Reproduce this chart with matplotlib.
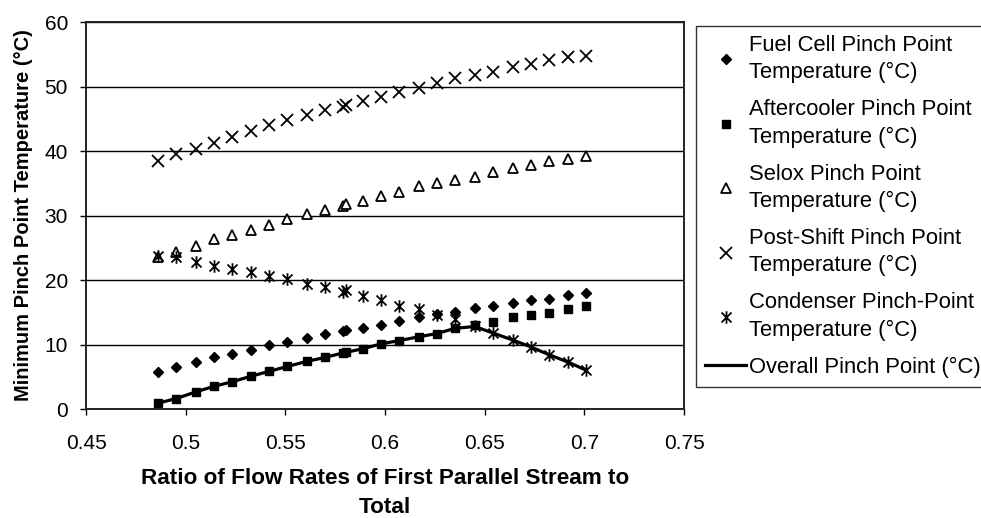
import matplotlib
matplotlib.use("Agg")
import matplotlib.pyplot as plt
from matplotlib.path import Path

plt.rcParams['font.family'] = ['Liberation Sans', 'DejaVu Sans']

# ratio of flow rates (x)
ratio = [0.486, 0.495, 0.505, 0.514, 0.523, 0.533, 0.542, 0.551, 0.561, 0.570,
         0.579, 0.5805, 0.589, 0.598, 0.607, 0.617, 0.626, 0.635, 0.645, 0.654,
         0.664, 0.673, 0.682, 0.692, 0.701]

fuel_cell = [5.7, 6.5, 7.25, 8.1, 8.6, 9.1, 9.9, 10.4, 11.05, 11.6,
             12.1, 12.2, 12.6, 13.1, 13.6, 14.3, 14.7, 15.05, 15.6, 16.0,
             16.4, 16.9, 17.1, 17.75, 17.95]
aftercooler = [0.9, 1.6, 2.65, 3.5, 4.2, 5.1, 5.85, 6.6, 7.4, 8.0,
               8.7, 8.8, 9.35, 10.1, 10.6, 11.2, 11.7, 12.5, 13.0, 13.5,
               14.2, 14.5, 14.95, 15.5, 15.9]
selox = [23.5, 24.4, 25.2, 26.3, 27.0, 27.8, 28.6, 29.4, 30.2, 30.9,
         31.5, 31.8, 32.3, 33.0, 33.7, 34.5, 35.1, 35.5, 36.0, 36.8,
         37.3, 37.9, 38.4, 38.7, 39.2]
post_shift = [38.4, 39.5, 40.3, 41.3, 42.1, 43.1, 44.0, 44.75, 45.6, 46.4,
              46.8, 47.1, 47.7, 48.4, 49.2, 49.8, 50.6, 51.3, 51.8, 52.3,
              53.0, 53.5, 54.1, 54.5, 54.8]
condenser = [23.7, 23.5, 22.8, 22.2, 21.7, 21.3, 20.65, 20.1, 19.35, 18.85,
             18.2, 18.4, 17.5, 16.85, 15.95, 15.5, 14.5, 13.9, 12.8, 11.8,
             10.7, 9.65, 8.45, 7.25, 6.0]
overall = [0.9, 1.6, 2.65, 3.5, 4.2, 5.1, 5.85, 6.6, 7.4, 8.0,
           8.7, 8.8, 9.35, 10.1, 10.6, 11.2, 11.7, 12.5, 12.8, 11.8,
           10.7, 9.65, 8.45, 7.25, 6.0]

labels = ['Fuel Cell Pinch Point\nTemperature (°C)',
          'Aftercooler Pinch Point\nTemperature (°C)',
          'Selox Pinch Point\nTemperature (°C)',
          'Post-Shift Pinch Point\nTemperature (°C)',
          'Condenser Pinch-Point\nTemperature (°C)',
          'Overall Pinch Point (°C)']

# excel style star marker: x with a vertical bar
star = Path([(0, -1), (0, 1), (-0.8, -0.8), (0.8, 0.8), (-0.8, 0.8), (0.8, -0.8)],
            [Path.MOVETO, Path.LINETO, Path.MOVETO, Path.LINETO, Path.MOVETO, Path.LINETO])

fig = plt.figure(figsize=(9.81, 5.18), dpi=100)
ax = fig.add_axes([0.0877, 0.2104, 0.6096, 0.7471])

ax.plot(ratio, fuel_cell, ls='none', marker='D', ms=5.2, color='black', label=labels[0], zorder=3)
ax.plot(ratio, aftercooler, ls='none', marker='s', ms=6.3, color='black', label=labels[1], zorder=3)
ax.plot(ratio, selox, ls='none', marker='^', ms=7.3, mfc='white', mec='black', mew=1.3,
        label=labels[2], zorder=3)
ax.plot(ratio, post_shift, ls='none', marker='x', ms=8.5, mec='black', mew=1.3, label=labels[3], zorder=3)
ax.plot(ratio, condenser, ls='none', marker=star, ms=9, mec='black', mew=1.3, label=labels[4], zorder=3)
ax.plot(ratio, overall, color='black', lw=2.3, label=labels[5], zorder=2)

ax.set_xlim(0.45, 0.75)
ax.set_ylim(0, 60)
ax.set_xticks([0.45, 0.5, 0.55, 0.6, 0.65, 0.7, 0.75])
ax.set_xticklabels(['0.45', '0.5', '0.55', '0.6', '0.65', '0.7', '0.75'])
ax.set_yticks(range(0, 61, 10))
ax.yaxis.grid(True, color='black', lw=1.0)
ax.set_axisbelow(True)
ax.tick_params(direction='out', length=4, width=1, labelsize=15)
ax.tick_params(axis='x', pad=14)
ax.tick_params(axis='y', pad=9)
for s in ax.spines.values():
    s.set_linewidth(1.4)
    s.set_color('#222222')

ax.set_xlabel('Ratio of Flow Rates of First Parallel Stream to\nTotal', fontsize=16.2,
              fontweight='bold', labelpad=11, linespacing=1.5)
ax.set_ylabel('Minimum Pinch Point Temperature (°C)', fontsize=14.5, fontweight='bold', labelpad=8)

leg = ax.legend(loc='upper left', bbox_to_anchor=(696 / 981, 1 - 26 / 518),
                bbox_transform=fig.transFigure, fontsize=15.8, frameon=True, fancybox=False,
                edgecolor='black', handlelength=1.9, handletextpad=0.1, borderpad=0.4,
                borderaxespad=0, labelspacing=0.72)
leg.get_frame().set_linewidth(1.0)
for t in leg.get_texts():
    t.set_linespacing(1.4)

fig.savefig('out.png', dpi=100)
